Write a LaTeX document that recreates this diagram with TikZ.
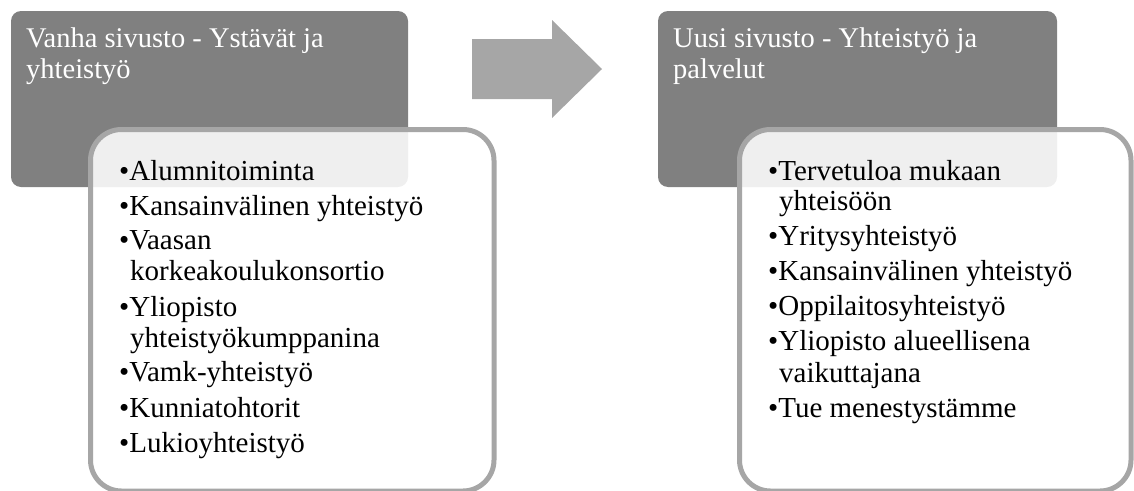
\documentclass[tikz,border=0pt]{standalone}
\usepackage{fontspec}
\setmainfont{Liberation Serif}
\definecolor{darkbox}{RGB}{128,128,128}
\definecolor{rimgray}{RGB}{166,166,166}
\tikzset{
  headbox/.style={fill=darkbox, rounded corners=10pt},
  listbox/.style={draw=rimgray, line width=5pt, fill=white, fill opacity=0.88, draw opacity=1, rounded corners=31pt},
  headtxt/.style={anchor=base west, inner sep=0pt, text=white, font=\fontsize{28.5}{31}\selectfont},
  btxt/.style={anchor=base west, inner sep=0pt, text=black, font=\fontsize{29}{31}\selectfont},
  bigarrow/.style={fill=rimgray}
}
\begin{document}
\begin{tikzpicture}[x=1pt,y=-1pt]
\useasboundingbox (0,0) rectangle (1134,490);
% left group
\path[headbox] (11,11) rectangle (408,187);
\path[listbox] (90.5,129.5) rectangle (494,491);
\node[headtxt] (h1a) at (26,47) {Vanha sivusto - Ystävät ja};
\node[headtxt] (h1b) at (26,78) {yhteistyö};
\foreach \x/\y/\t [count=\i] in {
  119/180/{•Alumnitoiminta},
  119/215/{•Kansainvälinen yhteistyö},
  119/249/{•Vaasan},
  130/280/{korkeakoulukonsortio},
  119/316/{•Yliopisto},
  130/347/{yhteistyökumppanina},
  119/381/{•Vamk-yhteistyö},
  119/417/{•Kunniatohtorit},
  119/452/{•Lukioyhteistyö}}
  \node[btxt] (L\i) at (\x,\y) {\t};
% arrow
\path[bigarrow] (472,39) -- (552,39) -- (552,20) -- (602,69) -- (552,118) -- (552,99) -- (472,99) -- cycle;
% right group
\path[headbox] (658,11) rectangle (1057,187);
\path[listbox] (739.5,129.5) rectangle (1131,491);
\node[headtxt] (h2a) at (673,47) {Uusi sivusto - Yhteistyö ja};
\node[headtxt] (h2b) at (673,78) {palvelut};
\foreach \x/\y/\t [count=\i] in {
  768/180/{•Tervetuloa mukaan},
  779/210/{yhteisöön},
  768/245/{•Yritysyhteistyö},
  768/280/{•Kansainvälinen yhteistyö},
  768/315/{•Oppilaitosyhteistyö},
  768/350/{•Yliopisto alueellisena},
  779/382/{vaikuttajana},
  768/417/{•Tue menestystämme}}
  \node[btxt] (R\i) at (\x,\y) {\t};
\end{tikzpicture}
\end{document}
